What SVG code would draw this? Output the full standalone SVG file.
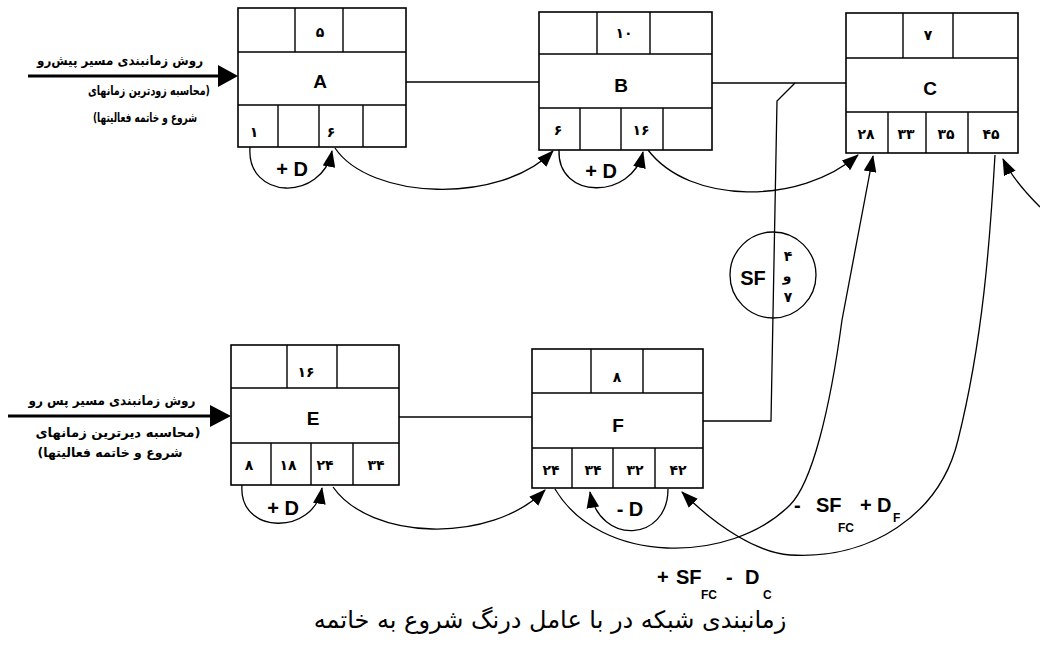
<svg xmlns="http://www.w3.org/2000/svg" width="1040" height="652" viewBox="0 0 1040 652">
<defs>
<marker id="ah" viewBox="0 0 16 12" refX="15" refY="6" markerWidth="17" markerHeight="13" markerUnits="userSpaceOnUse" orient="auto">
<path d="M0,0 L16,6 L0,12 z" fill="#000"/>
</marker>
<style>
.box{fill:#fff;stroke:#000;stroke-width:1.6}
.dv{stroke:#000;stroke-width:1.4;fill:none}
.ln{stroke:#000;stroke-width:1.3;fill:none}
.ar{stroke:#000;stroke-width:1.3;fill:none;marker-end:url(#ah)}
.in{stroke:#000;stroke-width:3;fill:none}
.num{font-family:"DejaVu Sans",sans-serif;font-weight:bold;font-size:14px;text-anchor:middle}
.nm{font-family:"Liberation Sans",Arial,sans-serif;font-weight:bold;font-size:19px;text-anchor:middle}
.lb{font-family:"Liberation Sans",Arial,sans-serif;font-weight:bold;font-size:20px}
.sb{font-family:"Liberation Sans",Arial,sans-serif;font-weight:bold;font-size:12px}
.fa{font-family:"DejaVu Sans",sans-serif;font-weight:bold;font-size:13px;text-anchor:middle}
.cap{font-family:"DejaVu Sans",sans-serif;font-size:24px;text-anchor:middle}
</style>
</defs>
<rect width="1040" height="652" fill="#fff"/>

<g id="connectors">
<line class="ln" x1="406" y1="82" x2="539" y2="82"/>
<line class="ln" x1="712" y1="83" x2="846" y2="83"/>
<path class="ln" d="M795,83 L777,101 L771,421 L703,421"/>
<line class="ln" x1="399" y1="417" x2="532" y2="417"/>
<line class="in" x1="28" y1="76" x2="222" y2="76"/>
<polygon points="218,65 238,76 218,87" fill="#000"/>
<line class="in" x1="8" y1="416" x2="214" y2="416"/>
<polygon points="210,405 231,416 210,427" fill="#000"/>
<path class="ar" d="M250,147 C246,200 322,202 332,151"/>
<path class="ar" d="M335,148 C370,200 500,205 553,151"/>
<path class="ar" d="M559,150 C557,200 632,200 643,152"/>
<path class="ar" d="M648,150 C690,205 800,205 858,155"/>
<path class="ar" d="M242,485 C238,535 314,536 322,488"/>
<path class="ar" d="M333,487 C370,540 490,545 545,490"/>
<path class="ar" d="M668,489 C668,542 600,546 590,492"/>
<path class="ar" d="M555,489 C600,565 730,565 790,505 C812,483 830,410 842,320 L873,156"/>
<path class="ar" d="M995,155 C990,240 983,340 958,440 C940,515 870,560 790,555 C760,553 720,530 682,492"/>
<path class="ar" d="M1040,207 C1028,195 1012,178 1003,159"/>
</g>

<g id="labels">
<text class="fa" x="120" y="65" direction="rtl" textLength="166" lengthAdjust="spacingAndGlyphs">روش زمانبندی مسیر پیش‌رو</text>
<text class="fa" x="149" y="95" direction="rtl" textLength="122" lengthAdjust="spacingAndGlyphs">(محاسبه زودترین زمانهای</text>
<text class="fa" x="145" y="122" direction="rtl" textLength="104" lengthAdjust="spacingAndGlyphs">شروع و خاتمه فعالیتها)</text>
<text class="fa" x="112" y="405" direction="rtl" textLength="167" lengthAdjust="spacingAndGlyphs">روش زمانبندی مسیر پس رو</text>
<text class="fa" x="118" y="437" direction="rtl" textLength="165" lengthAdjust="spacingAndGlyphs">(محاسبه دیرترین زمانهای</text>
<text class="fa" x="110" y="457" direction="rtl" textLength="145" lengthAdjust="spacingAndGlyphs">شروع و خاتمه فعالیتها)</text>
<text class="lb" x="292" y="176" text-anchor="middle">+ D</text>
<text class="lb" x="601" y="178" text-anchor="middle">+ D</text>
<text class="lb" x="283" y="515" text-anchor="middle">+ D</text>
<text class="lb" x="630" y="516" text-anchor="middle">- D</text>
<text class="lb" x="794" y="512">-</text>
<text class="lb" x="816" y="512">SF</text>
<text class="sb" x="838" y="532">FC</text>
<text class="lb" x="860" y="512">+</text>
<text class="lb" x="877" y="512">D</text>
<text class="sb" x="893" y="522">F</text>
<text class="lb" x="657" y="584">+</text>
<text class="lb" x="676" y="584">SF</text>
<text class="sb" x="701" y="599">FC</text>
<text class="lb" x="726" y="584">-</text>
<text class="lb" x="745" y="584">D</text>
<text class="sb" x="763" y="599">C</text>
<text class="cap" x="550" y="628" direction="rtl">زمانبندی شبکه در با عامل درنگ شروع به خاتمه</text>
</g>

<g id="node-SF">
<circle cx="773" cy="275" r="43" fill="none" stroke="#000" stroke-width="1.3"/>
<text class="lb" x="753" y="285" text-anchor="middle">SF</text>
<text class="num" x="788" y="261">۴</text>
<text class="num" x="787" y="281">و</text>
<text class="num" x="788" y="302">۷</text>
</g>

<g id="node-A">
<rect class="box" x="238" y="8" width="168" height="139"/>
<path class="dv" d="M238,52 H406 M238,105 H406 M295,8 V52 M343,8 V52 M278,105 V147 M319,105 V147 M363,105 V147"/>
<text class="num" x="320" y="37">۵</text>
<text class="nm" x="320" y="88">A</text>
<text class="num" x="254" y="137">۱</text>
<text class="num" x="331" y="137">۶</text>
</g>

<g id="node-B">
<rect class="box" x="539" y="12" width="173" height="138"/>
<path class="dv" d="M539,54 H712 M539,108 H712 M597,12 V54 M650,12 V54 M580,108 V150 M621,108 V150 M663,108 V150"/>
<text class="num" x="624" y="38">۱۰</text>
<text class="nm" x="621" y="92">B</text>
<text class="num" x="558" y="135">۶</text>
<text class="num" x="641" y="135">۱۶</text>
</g>

<g id="node-C">
<rect class="box" x="846" y="13" width="172" height="140"/>
<path class="dv" d="M846,58 H1018 M846,112 H1018 M903,13 V58 M953,13 V58 M888,112 V153 M926,112 V153 M968,112 V153"/>
<text class="num" x="928" y="40">۷</text>
<text class="nm" x="930" y="95">C</text>
<text class="num" x="866" y="139">۲۸</text>
<text class="num" x="906" y="139">۳۳</text>
<text class="num" x="946" y="139">۳۵</text>
<text class="num" x="991" y="139">۴۵</text>
</g>

<g id="node-E">
<rect class="box" x="231" y="345" width="168" height="140"/>
<path class="dv" d="M231,388 H399 M231,443 H399 M287,345 V388 M337,345 V388 M271,443 V485 M311,443 V485 M353,443 V485"/>
<text class="num" x="306" y="377">۱۶</text>
<text class="nm" x="313" y="425">E</text>
<text class="num" x="249" y="470">۸</text>
<text class="num" x="288" y="470">۱۸</text>
<text class="num" x="325" y="470">۲۴</text>
<text class="num" x="376" y="470">۳۴</text>
</g>

<g id="node-F">
<rect class="box" x="532" y="349" width="171" height="139"/>
<path class="dv" d="M532,393 H703 M532,448 H703 M591,349 V393 M643,349 V393 M572,448 V488 M613,448 V488 M655,448 V488"/>
<text class="num" x="617" y="382">۸</text>
<text class="nm" x="618" y="432">F</text>
<text class="num" x="551" y="475">۲۴</text>
<text class="num" x="593" y="475">۳۴</text>
<text class="num" x="635" y="475">۳۲</text>
<text class="num" x="678" y="475">۴۲</text>
</g>
</svg>
